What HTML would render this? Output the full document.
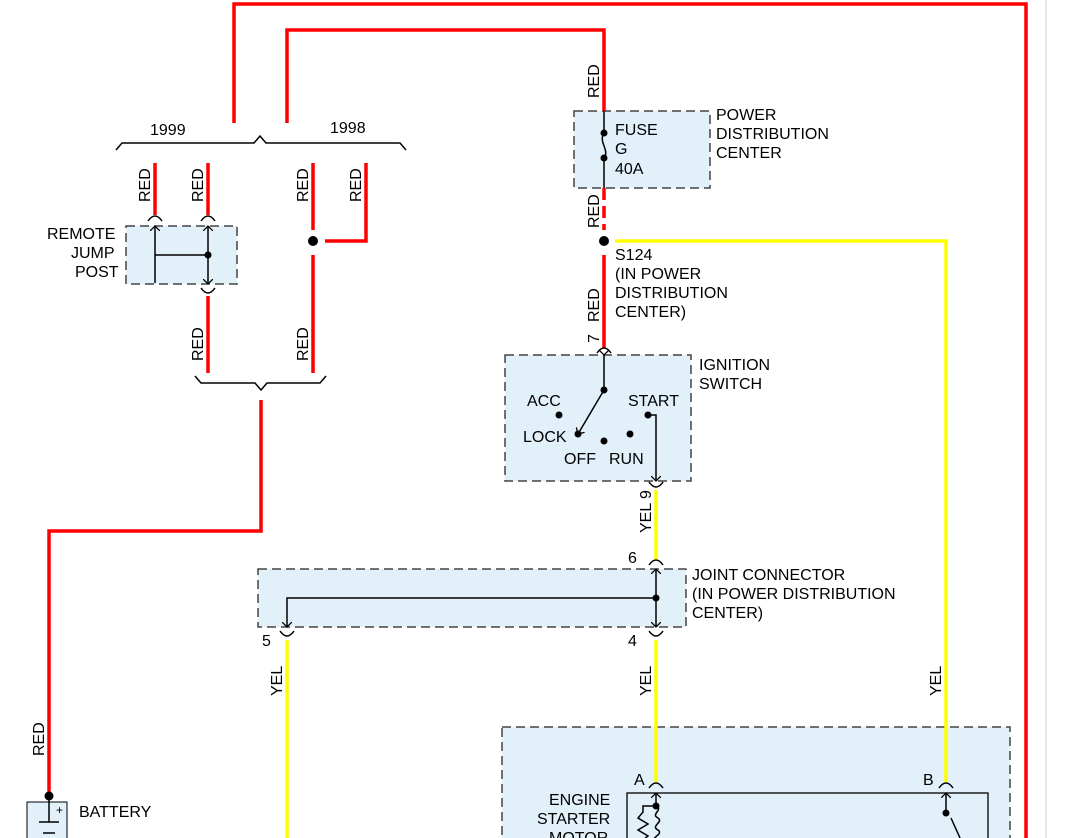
<!DOCTYPE html>
<html><head><meta charset="utf-8"><style>
html,body{margin:0;padding:0;background:#fff;}
svg{display:block;font-family:"Liberation Sans",sans-serif;}
text{fill:#000;}
</style></head><body>
<svg width="1082" height="838" viewBox="0 0 1082 838" xmlns="http://www.w3.org/2000/svg">
<defs>
<marker id="ar" markerWidth="10" markerHeight="10" refX="5" refY="5" orient="auto" markerUnits="userSpaceOnUse"><path d="M0,0 L5,5 L0,10" fill="none" stroke="#000" stroke-width="1.3"/></marker>
</defs>
<line x1="1046" y1="0" x2="1046" y2="838" stroke="#ccc"/>
<g fill="#e2f0fa" stroke="#444" stroke-width="1.5" stroke-dasharray="9,5">
<rect x="574" y="111" width="136" height="77"/>
<rect x="126" y="226" width="111" height="58"/>
<rect x="505" y="355" width="186" height="126"/>
<rect x="258" y="569" width="428" height="58"/>
<rect x="502" y="727" width="508" height="120"/>
<rect x="27" y="802" width="40" height="50" stroke-dasharray="none" stroke="#000" stroke-width="1"/>
</g>
<rect x="627" y="793" width="361" height="60" fill="none" stroke="#000" stroke-width="1.3"/>
<g stroke="#f00" stroke-width="3.5" fill="none">
<polyline points="234,123 234,4 1026,4 1026,838"/>
<polyline points="287,123 287,30 604,30 604,111"/>
<line x1="604" y1="188" x2="604" y2="230" stroke-dasharray="12,6"/>
<line x1="604" y1="255" x2="604" y2="348"/>
<line x1="155" y1="163" x2="155" y2="215"/>
<line x1="208" y1="163" x2="208" y2="215"/>
<line x1="313" y1="163" x2="313" y2="230"/>
<polyline points="366,163 366,241 325,241"/>
<line x1="313" y1="255" x2="313" y2="373"/>
<line x1="208" y1="296" x2="208" y2="373"/>
<polyline points="261,400 261,531 49,531 49,795"/>
</g>
<g stroke="#ff0" stroke-width="3.5" fill="none">
<polyline points="615,241 946,241 946,782"/>
<line x1="656" y1="490" x2="656" y2="560"/>
<line x1="656" y1="640" x2="656" y2="782"/>
<line x1="287" y1="640" x2="287" y2="838"/>
</g>
<g stroke="#000" stroke-width="1.5" fill="none">
<line x1="604" y1="111" x2="604" y2="133"/>
<path d="M604,133 C598,142 610,150 604,158 M604,158 L604,188"/>
<line x1="604" y1="355" x2="604" y2="390" marker-start="url(#ar)"/>
<line x1="604" y1="390" x2="578" y2="434" marker-end="url(#ar)"/>
<polyline points="648,415 656,415 656,481" marker-end="url(#ar)"/>
<polyline points="155,283 155,226" marker-end="url(#ar)"/>
<polyline points="155,255 208,255"/>
<line x1="208" y1="255" x2="208" y2="226" marker-end="url(#ar)"/>
<line x1="208" y1="255" x2="208" y2="284" marker-end="url(#ar)"/>
<line x1="656" y1="598" x2="656" y2="569" marker-end="url(#ar)"/>
<line x1="656" y1="598" x2="656" y2="627" marker-end="url(#ar)"/>
<polyline points="656,598 287,598 287,627" marker-end="url(#ar)"/>
<line x1="656" y1="804" x2="656" y2="793" marker-end="url(#ar)"/>
<line x1="946" y1="804" x2="946" y2="793" marker-end="url(#ar)"/>
<path d="M656,806 L643,806 L643,812 L638,818 L648,824 L638,830 L648,836 L643,840 M656,806 C664,810 650,814 658,818 C664,822 650,826 658,830 C664,834 650,838 656,840"/>
<path d="M946,804 L946,812 M951,818 L960,838"/>
<path d="M148,221 Q155,211 162,221 M201,221 Q208,211 215,221 M597,353 Q604,343 611,353 M649,565 Q656,555 663,565 M649,482 Q656,492 663,482 M201,288 Q208,298 215,288 M280,631 Q287,641 294,631 M649,631 Q656,641 663,631 M649,788 Q656,778 663,788 M939,788 Q946,778 953,788"/>
<path d="M116,150 L122,143 L254,143 L260,136 L266,143 L400,143 L406,150"/>
<path d="M195,376 L201,383 L255,383 L261,390 L267,383 L320,383 L326,376"/>
<line x1="49" y1="800" x2="49" y2="822"/>
<line x1="39" y1="822" x2="59" y2="822"/>
<line x1="43" y1="833" x2="55" y2="833"/>
</g>
<g fill="#000">
<circle cx="604" cy="133" r="3.5"/><circle cx="604" cy="158" r="3.5"/>
<circle cx="604" cy="241" r="5"/><circle cx="313" cy="241" r="5"/>
<circle cx="208" cy="255" r="3.5"/>
<circle cx="604" cy="390" r="3.5"/><circle cx="559" cy="415" r="3.5"/><circle cx="578" cy="434" r="3.5"/>
<circle cx="604" cy="441" r="3.5"/><circle cx="630" cy="434" r="3.5"/><circle cx="648" cy="415" r="3.5"/>
<circle cx="656" cy="598" r="3.5"/>
<circle cx="49" cy="796" r="4.5"/>
<circle cx="656" cy="806" r="3.5"/><circle cx="946" cy="813" r="3.5"/>
</g>
<g font-size="16">
<text x="150" y="135">1999</text><text x="330" y="133">1998</text>
<text x="615" y="135">FUSE</text><text x="615" y="154">G</text><text x="615" y="174">40A</text>
<text x="716" y="120">POWER</text><text x="716" y="139">DISTRIBUTION</text><text x="716" y="158">CENTER</text>
<text x="615" y="260">S124</text><text x="615" y="279">(IN POWER</text><text x="615" y="298">DISTRIBUTION</text><text x="615" y="317">CENTER)</text>
<text x="47" y="239">REMOTE</text><text x="71" y="258">JUMP</text><text x="75" y="277">POST</text>
<text x="699" y="370">IGNITION</text><text x="699" y="389">SWITCH</text>
<text x="527" y="406">ACC</text><text x="628" y="406">START</text><text x="523" y="442">LOCK</text>
<text x="564" y="464">OFF</text><text x="609" y="464">RUN</text>
<text x="692" y="580">JOINT CONNECTOR</text><text x="692" y="599">(IN POWER DISTRIBUTION</text><text x="692" y="618">CENTER)</text>
<text x="628" y="563">6</text><text x="262" y="646">5</text><text x="628" y="646">4</text>
<text x="634" y="785">A</text><text x="923" y="785">B</text>
<text x="549" y="805">ENGINE</text><text x="537" y="824">STARTER</text><text x="549" y="843">MOTOR</text>
<text x="79" y="817">BATTERY</text>
<text x="56" y="814" font-size="12">+</text>
</g>
<g font-size="16">
<text transform="translate(599,98) rotate(-90)">RED</text>
<text transform="translate(599,228) rotate(-90)">RED</text>
<text transform="translate(599,322) rotate(-90)">RED</text>
<text transform="translate(599,343) rotate(-90)">7</text>
<text transform="translate(150,202) rotate(-90)">RED</text>
<text transform="translate(203,202) rotate(-90)">RED</text>
<text transform="translate(308,202) rotate(-90)">RED</text>
<text transform="translate(361,202) rotate(-90)">RED</text>
<text transform="translate(203,361) rotate(-90)">RED</text>
<text transform="translate(308,361) rotate(-90)">RED</text>
<text transform="translate(44,756) rotate(-90)">RED</text>
<text transform="translate(651,533) rotate(-90)">YEL</text>
<text transform="translate(651,499) rotate(-90)">9</text>
<text transform="translate(282,696) rotate(-90)">YEL</text>
<text transform="translate(651,696) rotate(-90)">YEL</text>
<text transform="translate(941,696) rotate(-90)">YEL</text>
</g>
</svg>
</body></html>
